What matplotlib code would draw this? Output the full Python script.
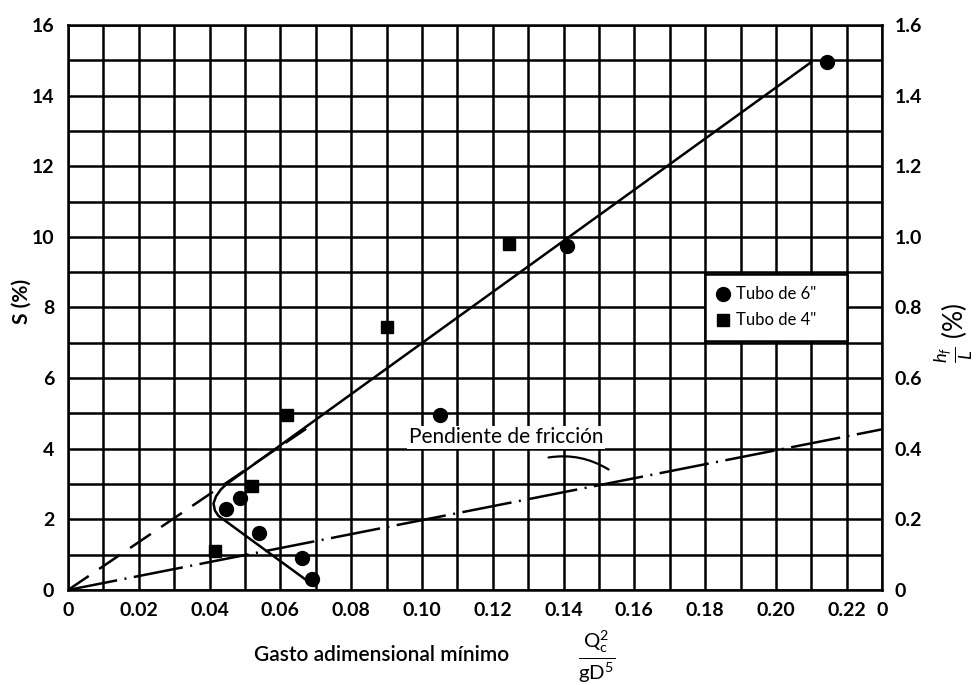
import matplotlib
matplotlib.use('Agg')
import matplotlib.pyplot as plt
from matplotlib.ticker import MultipleLocator

plt.rcParams['font.family'] = ['Lato', 'DejaVu Sans']
plt.rcParams['mathtext.fontset'] = 'custom'
plt.rcParams['mathtext.rm'] = 'Lato'
plt.rcParams['mathtext.it'] = 'Lato:italic'

# Tubo de 6" (circulos) y Tubo de 4" (cuadrados)
tubo6_x = [0.0445, 0.0485, 0.054, 0.066, 0.069, 0.105, 0.141, 0.2145]
tubo6_y = [2.3, 2.6, 1.6, 0.9, 0.3, 4.95, 9.75, 14.95]
tubo4_x = [0.0415, 0.052, 0.062, 0.090, 0.1245]
tubo4_y = [1.1, 2.95, 4.95, 7.45, 9.8]

# curva ajustada (solida, con el codo)
curva_x = [0.0695, 0.0425, 0.0415, 0.0411, 0.0418, 0.0432, 0.0448, 0.210]
curva_y = [0.12, 2.10, 2.25, 2.45, 2.65, 2.85, 3.0, 14.95]
# extension a trazos hasta el origen
trazos_x = [0.0, 0.070]
trazos_y = [0.0, 4.75]
# pendiente de friccion
friccion_x = [0.0, 0.23]
friccion_y = [0.0, 4.55]

x_ticks = [0, 0.02, 0.04, 0.06, 0.08, 0.10, 0.12, 0.14, 0.16, 0.18, 0.20, 0.22, 0.23]
x_labels = ['0', '0.02', '0.04', '0.06', '0.08', '0.10', '0.12', '0.14', '0.16',
            '0.18', '0.20', '0.22', '0']
y_ticks = [0, 2, 4, 6, 8, 10, 12, 14, 16]
y2_ticks = [0, 0.2, 0.4, 0.6, 0.8, 1.0, 1.2, 1.4, 1.6]
y2_labels = ['0', '0.2', '0.4', '0.6', '0.8', '1.0', '1.2', '1.4', '1.6']

fig = plt.figure(figsize=(9.79, 6.85), dpi=100)
ax = fig.add_axes([0.0695, 0.1387, 0.8315, 0.8248])
ax.set_xlim(0, 0.23)
ax.set_ylim(0, 16)

ax.set_xticks(x_ticks)
ax.set_xticklabels(x_labels, fontsize=14, fontweight='bold')
ax.set_yticks(y_ticks)
ax.set_yticklabels([str(v) for v in y_ticks], fontsize=14, fontweight='bold')
ax.xaxis.set_minor_locator(MultipleLocator(0.01))
ax.yaxis.set_minor_locator(MultipleLocator(1))
ax.tick_params(which='both', length=0)
ax.tick_params(axis='x', pad=9)
ax.tick_params(axis='y', pad=10)
ax.grid(True, which='both', color='black', linewidth=1.8)
ax.set_axisbelow(True)
for sp in ax.spines.values():
    sp.set_linewidth(1.8)

ax.plot(friccion_x, friccion_y, color='black', linewidth=1.8,
        dashes=(20, 3, 0.8, 3), zorder=3)
ax.plot(trazos_x, trazos_y, color='black', linewidth=1.8, dashes=(10, 5), zorder=3)
ax.plot(curva_x, curva_y, color='black', linewidth=1.8, zorder=4,
        solid_joinstyle='round')
ax.plot(tubo6_x, tubo6_y, 'o', color='black', markersize=10, zorder=5,
        label='Tubo de 6"')
ax.plot(tubo4_x, tubo4_y, 's', color='black', markersize=8, zorder=5,
        label='Tubo de 4"')

ax.text(0.1237, 4.33, 'Pendiente de fricción', fontsize=15, ha='center', va='center',
        zorder=6, bbox=dict(facecolor='white', edgecolor='none', pad=1))
ax.annotate('', xy=(0.1534, 3.37), xytext=(0.135, 3.74),
            arrowprops=dict(arrowstyle='-', color='black', linewidth=1.6,
                            connectionstyle='arc3,rad=-0.2'), zorder=6)

leg = ax.legend(loc='center', bbox_to_anchor=(0.18, 7.0, 0.04, 2.0),
                bbox_transform=ax.transData, mode='expand', borderaxespad=0,
                fontsize=12, frameon=True, fancybox=False, framealpha=1,
                edgecolor='black', handlelength=0.6, handletextpad=0.5,
                borderpad=0.75, labelspacing=0.6)
leg.get_frame().set_linewidth(1.8)
leg.set_zorder(7)

ax.text(-0.057, 0.51, 'S (%)', transform=ax.transAxes, rotation=90,
        fontsize=15, fontweight='bold', ha='center', va='center')
fig.text(382 / 979, 1 - 655 / 685, 'Gasto adimensional mínimo', fontsize=15,
         fontweight='semibold', ha='center', va='center')
fig.text(597 / 979, 1 - 657 / 685, r'$\frac{\mathrm{Q_c^2}}{\mathrm{gD^5}}$',
         fontsize=21, ha='center', va='center')

ax2 = ax.twinx()
ax2.set_ylim(0, 1.6)
ax2.set_yticks(y2_ticks)
ax2.set_yticklabels(y2_labels, fontsize=14, fontweight='bold')
ax2.tick_params(length=0, pad=9)
for sp in ax2.spines.values():
    sp.set_visible(False)
ax2.text(1.088, 0.455, r'$\frac{h_f}{L}$ (%)', transform=ax2.transAxes, rotation=90,
         fontsize=19, ha='center', va='center')

fig.savefig('out.png', dpi=100, facecolor='white')
